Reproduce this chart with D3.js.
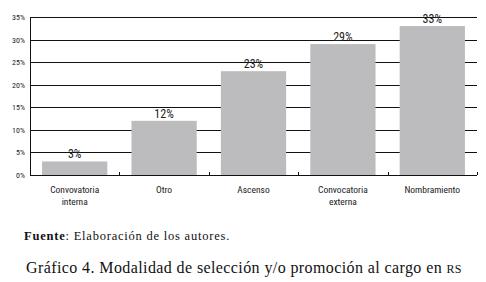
<!DOCTYPE html>
<html>
<head>
<meta charset="utf-8">
<script src="https://cdn.jsdelivr.net/npm/d3@7"></script>
<style>
  body { margin: 0; background: #fff; }
  svg { display: block; }
  .sans { font-family: "Liberation Sans Narrow", "Roboto Condensed", "DejaVu Sans Condensed", sans-serif; }
  .serif { font-family: "Liberation Serif", "DejaVu Serif", serif; }
</style>
</head>
<body>
<svg id="chart" width="486" height="282"></svg>
<script>
// data
const categories = [
  ["Convovatoria", "interna"],
  ["Otro"],
  ["Ascenso"],
  ["Convocatoria", "externa"],
  ["Nombramiento"],
];
const values = [3, 12, 23, 29, 33];
const yTicks = [0, 5, 10, 15, 20, 25, 30, 35];

const svg = d3.select("#chart");
const margin = { top: 17, right: 9, bottom: 107, left: 30 };
const width = +svg.attr("width") - margin.left - margin.right;
const height = +svg.attr("height") - margin.top - margin.bottom;

const chart = svg
  .append("g")
  .attr("transform", `translate(${margin.left},${margin.top})`);

const keys = categories.map((c) => c.join(" "));
const xScale = d3.scaleBand().domain(keys).range([0, width]).paddingInner(0.27).paddingOuter(0.135);
const yScale = d3.scaleLinear().domain([0, 35]).range([height, 0]);

// gridlines
chart
  .selectAll(".grid")
  .data(yTicks)
  .enter()
  .append("line")
  .attr("x1", 0)
  .attr("x2", width)
  .attr("y1", (d) => Math.round(yScale(d)) + 0.5)
  .attr("y2", (d) => Math.round(yScale(d)) + 0.5)
  .attr("stroke", "#111")
  .attr("stroke-width", 1);

// left axis line
chart
  .append("line")
  .attr("x1", 0.5)
  .attr("x2", 0.5)
  .attr("y1", Math.round(yScale(35)))
  .attr("y2", Math.round(yScale(0)) + 1)
  .attr("stroke", "#111");

// y tick labels
chart
  .selectAll(".ytick")
  .data(yTicks)
  .enter()
  .append("text")
  .attr("class", "sans")
  .attr("x", -5)
  .attr("y", (d) => yScale(d) + 3)
  .attr("text-anchor", "end")
  .attr("font-size", 8)
  .attr("fill", "#222")
  .text((d) => d + "%");

// small category separator ticks (pointing up)
const sepX = keys.map((k) => xScale(k) + xScale.bandwidth() + (xScale.step() - xScale.bandwidth()) / 2);
chart
  .selectAll(".sep")
  .data(sepX)
  .enter()
  .append("line")
  .attr("x1", (d) => Math.round(d) + 0.5)
  .attr("x2", (d) => Math.round(d) + 0.5)
  .attr("y1", Math.round(yScale(0)) - 3)
  .attr("y2", Math.round(yScale(0)))
  .attr("stroke", "#111");

// bars
chart
  .selectAll(".bar")
  .data(values)
  .enter()
  .append("rect")
  .attr("x", (d, i) => xScale(keys[i]))
  .attr("y", (d) => yScale(d))
  .attr("width", xScale.bandwidth())
  .attr("height", (d) => yScale(0) - yScale(d))
  .attr("fill", "#bcbcbe");

// value labels
chart
  .selectAll(".val")
  .data(values)
  .enter()
  .append("text")
  .attr("class", "sans")
  .attr("x", (d, i) => xScale(keys[i]) + xScale.bandwidth() / 2)
  .attr("y", (d) => yScale(d) - 3)
  .attr("text-anchor", "middle")
  .attr("font-size", 12)
  .attr("fill", "#222")
  .text((d) => d + "%");

// category labels
const catLabels = chart
  .selectAll(".cat")
  .data(categories)
  .enter()
  .append("text")
  .attr("class", "sans")
  .attr("x", (d, i) => xScale(keys[i]) + xScale.bandwidth() / 2)
  .attr("y", height + 18)
  .attr("text-anchor", "middle")
  .attr("font-size", 9.5)
  .attr("fill", "#222");
catLabels
  .selectAll("tspan")
  .data((d) => d)
  .enter()
  .append("tspan")
  .attr("x", function () { return d3.select(this.parentNode).attr("x"); })
  .attr("dy", (d, i) => (i === 0 ? 0 : 12))
  .text((d) => d);

// stretch a text line to a target width with letter spacing
const fitWidth = (sel, target) => {
  const node = sel.node();
  const n = node.getNumberOfChars();
  const w = node.getComputedTextLength();
  sel.attr("letter-spacing", ((target - w) / n).toFixed(2));
};

// source note
const note = svg
  .append("text")
  .attr("class", "serif")
  .attr("x", 24)
  .attr("y", 240)
  .attr("font-size", 12.5)
  .attr("fill", "#111");
note.append("tspan").attr("font-weight", "bold").text("Fuente");
note.append("tspan").text(": Elaboración de los autores.");
fitWidth(note, 206);

// caption
const caption = svg
  .append("text")
  .attr("class", "serif")
  .attr("x", 26)
  .attr("y", 273)
  .attr("font-size", 16)
  .attr("fill", "#111");
caption.append("tspan").text("Gráfico 4. Modalidad de selección y/o promoción al cargo en ");
caption.append("tspan").attr("font-size", 12).text("RS");
fitWidth(caption, 436);
</script>
</body>
</html>
